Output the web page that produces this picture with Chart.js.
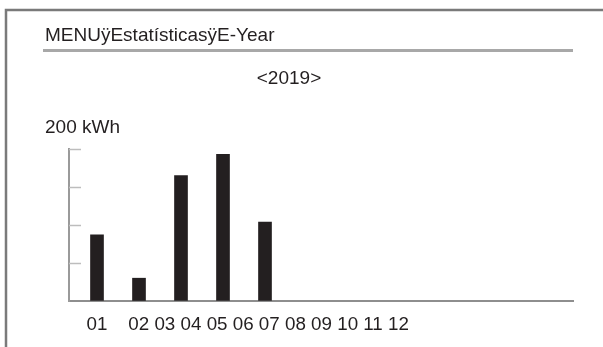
<!DOCTYPE html>
<html>
<head>
<meta charset="utf-8">
<script src="https://cdn.jsdelivr.net/npm/chart.js@4.4.0/dist/chart.umd.min.js"></script>
<style>
  html, body { margin: 0; padding: 0; background: #fff; }
  #wrap { width: 603px; height: 347px; }
</style>
</head>
<body>
<div id="wrap"><canvas id="yearChart" width="603" height="347"></canvas></div>
<script>
// E-Year statistics screen: monthly energy bars

const menuTitle = 'MENUÿEstatísticasÿE-Year';
const yearLabel = '<2019>';
const unitLabel = '200 kWh';

const months = ['01', '02', '03', '04', '05', '06', '07', '08', '09', '10', '11', '12'];
const barMonths = [1, 2, 3, 4, 5];
const energyKwh = [87, 30, 165, 193, 104];

const yMax = 200;
const yStep = 50;

const FONT = '"Liberation Sans", Arial, sans-serif';
const INK = '#231f20';

// Frame, header texts, inward tick marks and the month row
const screenPlugin = {
    id: 'screenPlugin',
    afterDraw(chart) {
        const ctx = chart.ctx;
        const area = chart.chartArea;
        const xs = chart.scales.x;
        const ys = chart.scales.y;

        ctx.save();

        // panel frame (top and left edges)
        ctx.strokeStyle = '#7a7a7a';
        ctx.lineWidth = 2.5;
        ctx.beginPath();
        ctx.moveTo(6, chart.height);
        ctx.lineTo(6, 10);
        ctx.lineTo(chart.width, 10);
        ctx.stroke();

        // header rule
        ctx.strokeStyle = '#a8a8a8';
        ctx.lineWidth = 3;
        ctx.beginPath();
        ctx.moveTo(43, 50.5);
        ctx.lineTo(area.right, 50.5);
        ctx.stroke();

        ctx.fillStyle = INK;
        ctx.textBaseline = 'alphabetic';
        ctx.font = '19px ' + FONT;
        ctx.textAlign = 'left';
        ctx.fillText(menuTitle, 45, 41);
        ctx.fillText(unitLabel, 45, 133);
        ctx.textAlign = 'center';
        ctx.fillText(yearLabel, 289, 84);

        // tick marks pointing into the plot
        ctx.strokeStyle = '#bdbdbd';
        ctx.lineWidth = 1.5;
        ys.ticks.forEach(t => {
            if (t.value === 0) return;
            const py = Math.round(ys.getPixelForValue(t.value)) + 0.5;
            ctx.beginPath();
            ctx.moveTo(area.left, py);
            ctx.lineTo(area.left + 12, py);
            ctx.stroke();
        });

        // month labels as one text row
        ctx.font = '18.8px ' + FONT;
        ctx.textAlign = 'left';
        const row = months[0] + '    ' + months.slice(1).join(' ');
        const x0 = xs.getPixelForValue(barMonths[0]) - ctx.measureText(months[0]).width / 2;
        ctx.fillText(row, x0, 330);

        ctx.restore();
    }
};

new Chart(document.getElementById('yearChart'), {
    type: 'bar',
    data: {
        datasets: [{
            label: 'E-Year',
            data: barMonths.map((m, i) => ({ x: m, y: energyKwh[i] })),
            backgroundColor: INK,
            borderWidth: 0,
            barThickness: 13
        }]
    },
    options: {
        responsive: false,
        devicePixelRatio: 1,
        animation: false,
        layout: {
            padding: { left: 69, right: 30, top: 149, bottom: 46 }
        },
        plugins: {
            legend: { display: false },
            tooltip: { enabled: false }
        },
        scales: {
            x: {
                type: 'linear',
                offset: false,
                min: 1 / 3,
                max: 12 + 1 / 3,
                ticks: { display: false },
                grid: { drawOnChartArea: false, drawTicks: false, offset: false },
                border: { color: '#8e8e8e', width: 2 },
                afterFit: s => { s.height = 0; }
            },
            y: {
                min: 0,
                max: yMax,
                ticks: { display: false, stepSize: yStep },
                grid: { drawOnChartArea: false, drawTicks: false },
                border: { color: '#9a9a9a', width: 2 },
                afterFit: s => { s.width = 0; }
            }
        }
    },
    plugins: [screenPlugin]
});
</script>
</body>
</html>
